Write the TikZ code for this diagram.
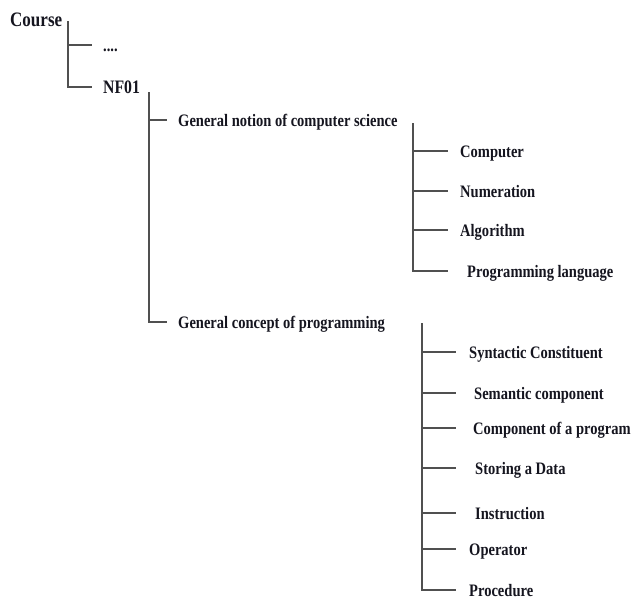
\documentclass[tikz,border=0pt]{standalone}
\usepackage{fontspec}
\usepackage{tikz}
\newfontfamily\treefont[FakeStretch=0.83]{Liberation Serif}
\definecolor{ink}{HTML}{15151F}
\definecolor{wire}{HTML}{505050}
\tikzset{
  leaf/.style={anchor=west, inner xsep=11pt, inner ysep=0pt, text height=12pt, text depth=0pt,
    text=ink, font=\treefont\bfseries\fontsize{17.5}{20}\selectfont},
  branch/.style={draw=wire, line width=1.3pt}
}

\begin{document}
\begin{tikzpicture}[x=1pt,y=-1pt]
\useasboundingbox (0,0) rectangle (634,600);

\node[leaf, text height=14pt, font=\treefont\bfseries\fontsize{20.5}{24}\selectfont] (course) at (-1,19) {Course};
\coordinate (s0) at (68,21);
\node[leaf] (dots) at (92,45) {....};
\node[leaf, font=\treefont\bfseries\fontsize{19}{22}\selectfont] (nf) at (92,87) {NF01};
\draw[branch] (s0) |- (dots.west);
\draw[branch] (s0) |- (nf.west);

\coordinate (s1) at (149,92);
\node[leaf] (notion) at (167,120) {General notion of computer science};
\node[leaf] (concept) at (167,322) {General concept of programming};
\draw[branch] (s1) |- (notion.west);
\draw[branch] (s1) |- (concept.west);

\coordinate (s2) at (413,123);
\foreach \name/\y/\gap/\txt in {comp/151/12/Computer, num/191/12/Numeration,
    algo/230/12/Algorithm, lang/271/19/Programming language}
  {
    \node[leaf, inner xsep=\gap pt] (\name) at (448,\y) {\txt};
    \draw[branch] (s2) |- (\name.west);
  }

\coordinate (s3) at (422,323);
\foreach \name/\y/\gap/\txt in {synt/352/13/Syntactic Constituent, sem/393/18/Semantic component,
    prog/428/17/Component of a program, data/468/19/Storing a Data, instr/513/19/Instruction,
    oper/549/13/Operator, proc/590/13/Procedure}
  {
    \node[leaf, inner xsep=\gap pt] (\name) at (456,\y) {\txt};
    \draw[branch] (s3) |- (\name.west);
  }

\end{tikzpicture}
\end{document}
